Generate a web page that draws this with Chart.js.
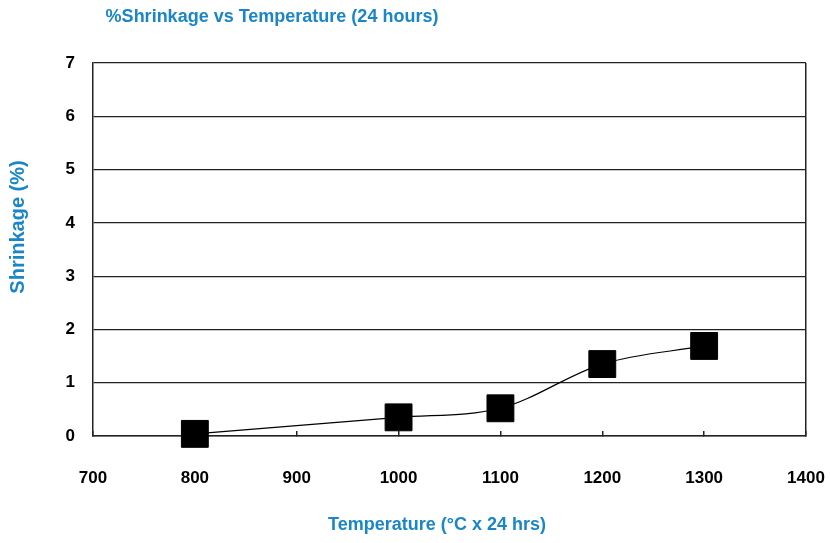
<!DOCTYPE html>
<html>
<head>
<meta charset="utf-8">
<script src="https://cdn.jsdelivr.net/npm/chart.js@4/dist/chart.umd.min.js"></script>
<style>
  html, body { margin: 0; padding: 0; background: #fff; }
  #wrap { width: 830px; height: 543px; position: relative; }
</style>
</head>
<body>
<div id="wrap"><canvas id="chart"></canvas></div>
<script>
// data
var temperatures = [800, 1000, 1100, 1200, 1300];
var shrinkage = [0.04, 0.35, 0.52, 1.35, 1.69];
var xTicks = [700, 800, 900, 1000, 1100, 1200, 1300, 1400];
var yTicks = [0, 1, 2, 3, 4, 5, 6, 7];

var blue = '#1a86c8';
var points = [];
for (var i = 0; i < temperatures.length; i++) {
    points.push({ x: temperatures[i], y: shrinkage[i] });
}

// titles are drawn by hand so they land where the original puts them
var textPlugin = {
    id: 'texts',
    afterDraw: function(chart) {
        var ctx = chart.ctx;
        ctx.save();
        ctx.fillStyle = blue;
        ctx.textAlign = 'center';
        ctx.textBaseline = 'middle';
        ctx.font = 'bold 18px "Liberation Sans", Arial, sans-serif';
        ctx.fillText('%Shrinkage vs Temperature (24 hours)', 272, 17);
        ctx.fillText('Temperature (\u00B0C x 24 hrs)', 437, 525);
        ctx.font = 'bold 20px "Liberation Sans", Arial, sans-serif';
        ctx.translate(18, 227);
        ctx.rotate(-Math.PI / 2);
        ctx.fillText('Shrinkage (%)', 0, 0);
        ctx.restore();
    }
};

var tickFont = { family: '"Liberation Sans", Arial, sans-serif', size: 17, weight: 'bold' };

new Chart(document.getElementById('chart'), {
    type: 'scatter',
    data: {
        datasets: [{
            data: points,
            showLine: true,
            cubicInterpolationMode: 'monotone',
            borderColor: '#000',
            borderWidth: 1.2,
            clip: false,
            pointStyle: 'rect',
            pointRadius: 19,
            pointHoverRadius: 19,
            pointBackgroundColor: '#000',
            pointBorderColor: '#000',
            pointBorderWidth: 1
        }]
    },
    options: {
        responsive: true,
        maintainAspectRatio: false,
        animation: false,
        events: [],
        layout: { padding: { top: 63, right: 24, left: 0, bottom: 0 } },
        plugins: {
            legend: { display: false },
            tooltip: { enabled: false }
        },
        scales: {
            x: {
                type: 'linear',
                min: 700,
                max: 1400,
                afterBuildTicks: function(scale) {
                    scale.ticks = xTicks.map(function(v) { return { value: v }; });
                },
                afterFit: function(scale) {
                    scale.height = 107;
                    scale.paddingLeft = 0;
                    scale.paddingRight = 0;
                },
                border: { color: '#222', width: 1.5 },
                grid: {
                    drawOnChartArea: true,
                    drawTicks: true,
                    tickLength: -5,
                    tickColor: '#222',
                    lineWidth: 1.5,
                    color: function(c) {
                        return c.tick && c.tick.value === 1400 ? '#222' : 'rgba(0,0,0,0)';
                    }
                },
                ticks: {
                    color: '#000',
                    font: tickFont,
                    padding: 37,
                    maxRotation: 0,
                    callback: function(v) { return String(v); }
                }
            },
            y: {
                min: 0,
                max: 7,
                afterBuildTicks: function(scale) {
                    scale.ticks = yTicks.map(function(v) { return { value: v }; });
                },
                afterFit: function(scale) {
                    scale.width = 93;
                    scale.paddingTop = 0;
                    scale.paddingBottom = 0;
                },
                border: { color: '#222', width: 1.5 },
                grid: {
                    color: '#222',
                    lineWidth: 1.2,
                    drawTicks: false
                },
                ticks: {
                    color: '#000',
                    font: tickFont,
                    padding: 18
                }
            }
        }
    },
    plugins: [textPlugin]
});
</script>
</body>
</html>
